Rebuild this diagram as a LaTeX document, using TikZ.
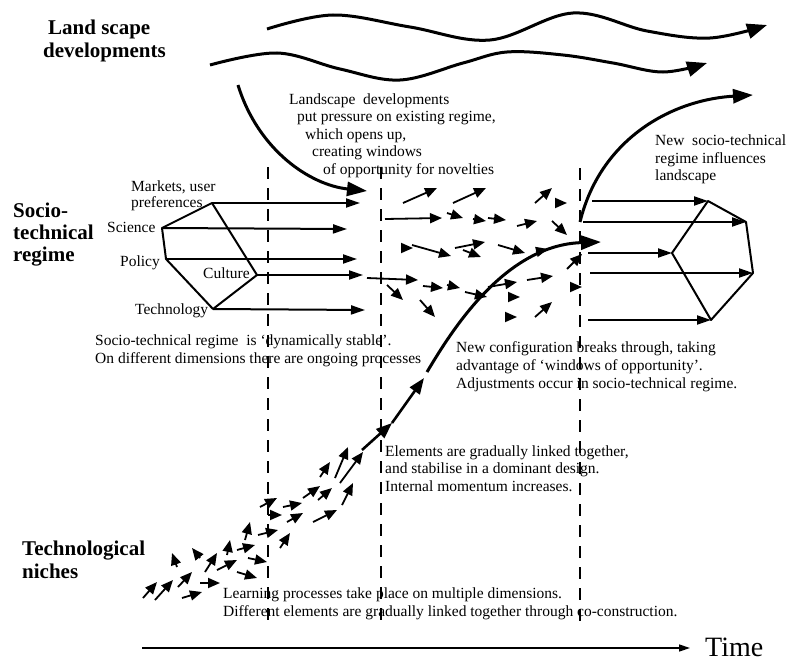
\documentclass[tikz,border=0pt]{standalone}
\usepackage{fontspec}
\setmainfont{Liberation Serif}
\usetikzlibrary{arrows.meta}
\begin{document}
\begin{tikzpicture}[x=1pt,y=-1pt,
  txt/.style={font=\fontsize{15.5}{18}\selectfont, inner sep=0pt, anchor=base west},
  hd/.style={font=\fontsize{21}{23}\selectfont\bfseries, inner sep=0pt, anchor=base west},
  wave/.style={line width=3pt, -{Triangle[length=20pt,width=15pt]}},
  bigarr/.style={line width=3pt, -{Triangle[length=20pt,width=14pt]}},
  midarr/.style={line width=2.6pt, -{Triangle[length=16pt,width=12pt]}},
  dimarr/.style={line width=2pt, -{Triangle[length=14pt,width=9pt]}},
  sm/.style={line width=1.8pt, -{Triangle[length=12pt,width=10pt]}},
  edge/.style={line width=2pt, line join=round},
  vline/.style={line width=2.4pt, dash pattern=on 12pt off 9pt},
  timearr/.style={line width=1.4pt, -{Triangle[length=11pt,width=7pt]}}]
\useasboundingbox (0,0) rectangle (787,661);
\fill[white] (0,0) rectangle (787,661);

% headings
\node[hd] (h1) at (48,35) {Land scape};
\node[hd] (h2) at (43,58) {developments};
\node[hd] (h3) at (13,217) {Socio-};
\node[hd] (h4) at (13,239) {technical};
\node[hd] (h5) at (13,261) {regime};
\node[hd] (h6) at (22,555) {Technological};
\node[hd] (h7) at (22,578) {niches};

% landscape waves
\draw[wave] plot[smooth, tension=0.6] coordinates {(267,29) (333,15) (410,27) (490,40) (573,13) (647,31) (710,38) (767,25)};
\draw[wave] plot[smooth, tension=0.6] coordinates {(210,65) (277,53) (340,69) (400,80) (463,63) (507,52) (563,55) (613,63) (663,72) (707,63)};

% landscape text
\node[txt] (l1) at (289,104) {Landscape\ \ developments};
\node[txt] (l2) at (297,121.5) {put pressure on existing regime,};
\node[txt] (l3) at (305,139) {which opens up,};
\node[txt] (l4) at (312,156.5) {creating windows};
\node[txt] (l5) at (323,174) {of opportunity for novelties};

% landscape pressure arrow
\coordinate (ls) at (238,85);
\coordinate (lt) at (367,191);
\draw[bigarr] (ls) .. controls (258,150) and (310,185) .. (lt);

% new regime -> landscape arrow
\coordinate (ns) at (580,222);
\coordinate (nt) at (753,95);
\draw[bigarr] (ns) .. controls (600,140) and (670,100) .. (nt);
\node[txt] (n1) at (655,145) {New\ \ socio-technical};
\node[txt] (n2) at (655,163) {regime influences};
\node[txt] (n3) at (655,180) {landscape};

% dashed lines
\draw[vline] (268,167) -- (268,624);
\draw[vline] (381,167) -- (381,624);
\draw[vline] (580,168) -- (580,624);

% left regime pentagon
\coordinate (pm) at (212,203);
\coordinate (ps) at (162,228);
\coordinate (pp) at (166,259);
\coordinate (pt) at (213,309);
\coordinate (pc) at (257,275);
\draw[edge] (pm) -- (ps) -- (pp) -- (pt) -- (pc) -- cycle;
\draw[dimarr] (pm) -- (360,203);
\draw[dimarr] (ps) -- (347,229);
\draw[dimarr] (pp) -- (357,259);
\draw[dimarr] (pc) -- (363,275);
\draw[dimarr] (pt) -- (365,310);
\node[txt] (m1) at (131,191) {Markets, user};
\node[txt] (m2) at (131,207) {preferences};
\node[txt] (sc) at (107,232) {Science};
\node[txt] (po) at (120,266) {Policy};
\node[txt] (cu) at (203,278) {Culture};
\node[txt] (te) at (135,314) {Technology};
\node[txt] (s1) at (95,345) {Socio-technical regime\ \ is ‘dynamically stable’.};
\node[txt] (s2) at (95,363) {On different dimensions there are ongoing processes};

% right regime pentagon
\coordinate (qt) at (708,201);
\coordinate (qr) at (746,222);
\coordinate (qx) at (753,273);
\coordinate (qb) at (711,320);
\coordinate (ql) at (672,253);
\draw[edge] (qt) -- (qr) -- (qx) -- (qb) -- (ql) -- cycle;
\draw[dimarr] (592,201) -- (qt);
\draw[dimarr] (583,222) -- (qr);
\draw[dimarr] (588,253) -- (ql);
\draw[dimarr] (590,273) -- (qx);
\draw[dimarr] (588,320) -- (qb);

% middle small arrows
\draw[sm] (403,203) -- (437,188);
\draw[sm] (453,203) -- (486,188);
\draw[sm] (535,203) -- (552,188);
\draw[sm] (555,203) -- (567,203);
\draw[sm] (385,219) -- (442,218);
\draw[sm] (447,213) -- (463,218);
\draw[sm] (473,219) -- (486,221);
\draw[sm] (488,218) -- (506,220);
\draw[sm] (517,226) -- (537,221);
\draw[sm] (552,221) -- (567,235);
\draw[sm] (401,248) -- (413,248);
\draw[sm] (412,245) -- (451,256);
\draw[sm] (455,248) -- (485,242);
\draw[sm] (463,250) -- (481,257);
\draw[sm] (498,245) -- (525,253);
\draw[sm] (367,278) -- (418,280);
\draw[sm] (387,285) -- (403,300);
\draw[sm] (420,300) -- (435,317);
\draw[sm] (423,286) -- (443,288);
\draw[sm] (447,285) -- (460,288);
\draw[sm] (465,292) -- (487,297);
\draw[sm] (488,287) -- (517,282);
\draw[sm] (508,297) -- (520,297);
\draw[sm] (527,280) -- (553,276);
\draw[sm] (505,317) -- (517,317);
\draw[sm] (535,317) -- (552,302);
\draw[sm] (567,269) -- (582,254);
\draw[sm] (570,287) -- (582,287);
\draw[sm] (536,252) -- (548,249);

% niche trajectory (main)
\coordinate (c0) at (362,450);
\coordinate (c1) at (392,423);
\coordinate (c2) at (424,378);
\coordinate (c3) at (427,372);
\coordinate (c4) at (601,242);
\draw[midarr] (c0) -- (c1);
\draw[midarr] (c1) -- (c2);
\draw[bigarr] (c3) .. controls (452,330) and (505,245) .. (c4);

% niche small arrows
\draw[sm] (143,598) -- (157,582);
\draw[sm] (155,600) -- (173,580);
\draw[sm] (178,587) -- (192,572);
\draw[sm] (182,598) -- (202,592);
\draw[sm] (200,583) -- (220,583);
\draw[sm] (177,567) -- (172,553);
\draw[sm] (200,558) -- (192,548);
\draw[sm] (205,572) -- (217,553);
\draw[sm] (217,570) -- (237,560);
\draw[sm] (227,555) -- (230,540);
\draw[sm] (237,572) -- (257,578);
\draw[sm] (237,550) -- (255,545);
\draw[sm] (245,540) -- (250,522);
\draw[sm] (248,558) -- (267,562);
\draw[sm] (258,535) -- (278,530);
\draw[sm] (280,548) -- (290,533);
\draw[sm] (260,507) -- (277,498);
\draw[sm] (268,515) -- (282,515);
\draw[sm] (283,507) -- (302,503);
\draw[sm] (287,522) -- (303,513);
\draw[sm] (313,522) -- (337,510);
\draw[sm] (303,498) -- (320,486);
\draw[sm] (318,500) -- (332,488);
\draw[sm] (342,505) -- (353,483);
\draw[sm] (320,477) -- (330,462);
\draw[sm] (335,478) -- (348,447);
\draw[sm] (340,483) -- (363,452);

% explanatory texts
\node[txt] (e1) at (456,352) {New configuration breaks through, taking};
\node[txt] (e2) at (456,370) {advantage of ‘windows of opportunity’.};
\node[txt] (e3) at (456,388) {Adjustments occur in socio-technical regime.};
\node[txt] (g1) at (385,456) {Elements are gradually linked together,};
\node[txt] (g2) at (385,473) {and stabilise in a dominant design.};
\node[txt] (g3) at (385,491) {Internal momentum increases.};
\node[txt] (k1) at (223,598) {Learning processes take place on multiple dimensions.};
\node[txt] (k2) at (223,616) {Different elements are gradually linked together through co-construction.};

% time axis
\coordinate (t0) at (142,648);
\node[font=\fontsize{28}{30}\selectfont, inner sep=0pt, anchor=base west] (tm) at (705,656) {Time};
\draw[timearr] (t0) -- (690,648);
\end{tikzpicture}
\end{document}
